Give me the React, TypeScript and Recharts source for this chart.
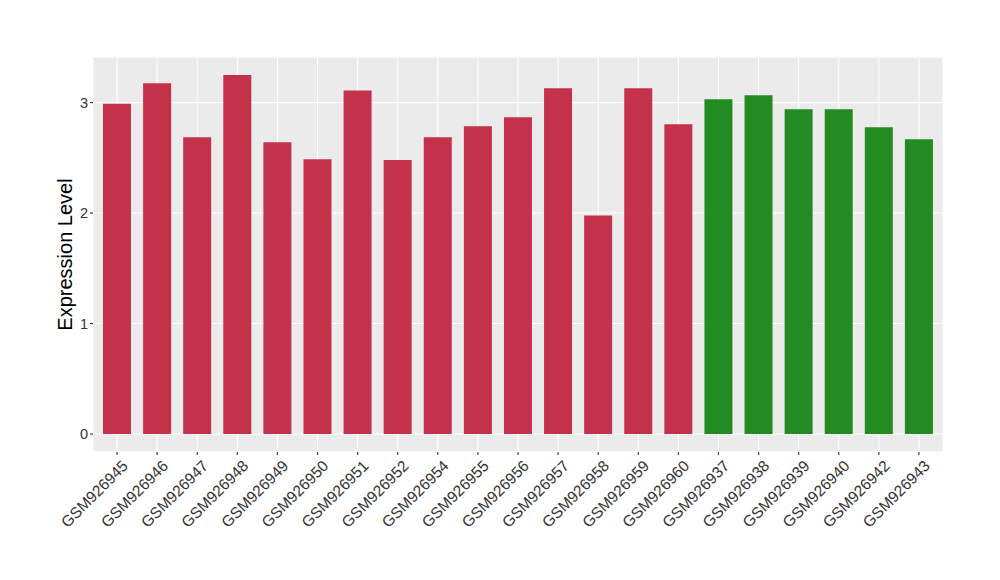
import React from "react";
import { BarChart, Bar, XAxis, YAxis, CartesianGrid, Cell } from "recharts";

const categories = [
  "GSM926945", "GSM926946", "GSM926947", "GSM926948", "GSM926949", "GSM926950",
  "GSM926951", "GSM926952", "GSM926954", "GSM926955", "GSM926956", "GSM926957",
  "GSM926958", "GSM926959", "GSM926960", "GSM926937", "GSM926938", "GSM926939",
  "GSM926940", "GSM926942", "GSM926943",
];
const values = [
  2.99, 3.176, 2.686, 3.25, 2.641, 2.487,
  3.11, 2.48, 2.686, 2.786, 2.868, 3.13,
  1.979, 3.13, 2.804, 3.031, 3.067, 2.94,
  2.94, 2.777, 2.668,
];
const groups = [
  "A", "A", "A", "A", "A", "A", "A", "A", "A", "A", "A", "A", "A", "A", "A",
  "B", "B", "B", "B", "B", "B",
];
const groupColors: Record<string, string> = { A: "#C3314A", B: "#228B22" };
const yTicks = [0, 1, 2, 3];
const yMinorTicks = [0.5, 1.5, 2.5];

const data = categories.map((c, i) => ({ name: c, value: values[i], group: groups[i] }));

const XTick = (props: any) => {
  const { x, y, payload } = props;
  return (
    <g transform={`translate(${x + 4},${y + 2})`}>
      <text
        x={0}
        y={0}
        dy="0.72em"
        textAnchor="end"
        transform="rotate(-45)"
        fontSize={15.5}
        fill="#333333"
        fontFamily="Liberation Sans, Arial, sans-serif"
      >
        {payload.value}
      </text>
    </g>
  );
};

export default function App() {
  return (
    <div style={{ position: "absolute", left: 0, top: 0, width: 1000, height: 580, background: "#fff" }}>
      <BarChart
        width={1000}
        height={580}
        data={data}
        margin={{ top: 57, right: 57, left: 53, bottom: 0 }}
        barCategoryGap="15%"
      >
        <CartesianGrid
          yAxisId="minor"
          vertical={false}
          fill="#EBEBEB"
          stroke="#FFFFFF"
          strokeWidth={0.55}
        />
        <CartesianGrid stroke="#FFFFFF" strokeWidth={1.1} />
        <XAxis
          dataKey="name"
          interval={0}
          padding={{ left: 4, right: 4 }}
          height={128}
          axisLine={false}
          tickSize={3}
          tickLine={{ stroke: "#333333", strokeWidth: 1.1 }}
          tick={<XTick />}
        />
        <YAxis
          domain={[-0.1625, 3.4125]}
          ticks={yTicks}
          width={40}
          axisLine={false}
          tickSize={3}
          tickMargin={2}
          tickLine={{ stroke: "#333333", strokeWidth: 1.1 }}
          tick={{ fontSize: 14.5, fill: "#333333", fontFamily: "Liberation Sans, Arial, sans-serif" }}
          label={{
            value: "Expression Level",
            angle: -90,
            position: "insideLeft",
            offset: 0,
            dx: 12,
            style: { fontSize: 20, fill: "#000", fontFamily: "Liberation Sans, Arial, sans-serif", textAnchor: "middle" },
          }}
        />
        <YAxis yAxisId="minor" hide domain={[-0.1625, 3.4125]} ticks={yMinorTicks} />
        <Bar dataKey="value" isAnimationActive={false}>
          {data.map((d, i) => (
            <Cell key={i} fill={groupColors[d.group]} />
          ))}
        </Bar>
      </BarChart>
    </div>
  );
}
